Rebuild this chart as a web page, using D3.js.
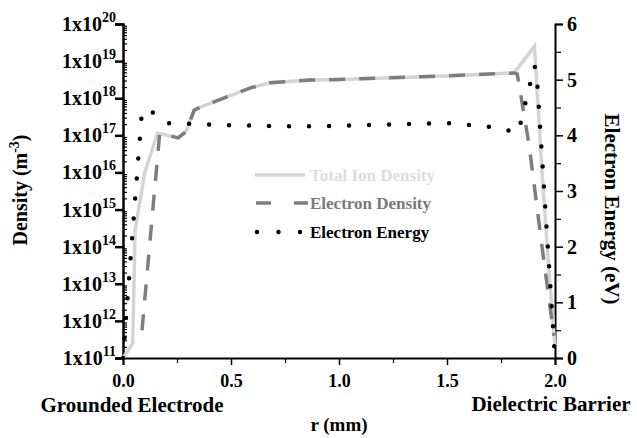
<!DOCTYPE html>
<html>
<head>
<meta charset="utf-8">
<script src="https://cdn.jsdelivr.net/npm/d3@7"></script>
<style>
body { margin: 0; background: #fff; }
text { font-family: "Liberation Serif", "Times New Roman", serif; font-weight: bold; }
</style>
</head>
<body>
<script>
// ion density (light solid line)
var ionR = [0, 0.045, 0.056, 0.10, 0.16, 0.255, 0.29, 0.33, 0.36, 0.59, 0.68, 0.87, 1.0, 1.5, 1.81, 1.905, 1.94, 1.97, 2.0];
var ionN = [1e11, 2.5e11, 2.8e14, 9.5e15, 1.15e17, 8.5e16, 1.23e17, 4.8e17, 5.8e17, 1.9e18, 2.6e18, 3.1e18, 3.2e18, 4.0e18, 4.8e18, 2.5e19, 1e16, 3.2e13, 2e11];

// electron density (dashed grey)
var eleR = [0.088, 0.17, 0.255, 0.29, 0.33, 0.36, 0.59, 0.68, 0.87, 1.0, 1.5, 1.81, 1.825, 1.84, 1.88, 1.94, 1.995];
var eleN = [5.6e11, 1.15e17, 8.5e16, 1.23e17, 4.8e17, 5.8e17, 1.9e18, 2.6e18, 3.1e18, 3.2e18, 4.0e18, 4.8e18, 4.5e18, 1.4e18, 5.5e16, 9.8e13, 4e11];

// electron energy (dotted, right axis)
var enR = [0, 0.045, 0.088, 0.125, 0.20, 0.5, 0.8, 1.0, 1.3, 1.5, 1.7, 1.83, 1.905, 1.915, 2.0];
var enE = [0, 2.3, 4.45, 4.45, 4.22, 4.18, 4.16, 4.17, 4.2, 4.22, 4.15, 4.05, 5.25, 5.1, 0];

var xTicks = [0, 0.5, 1.0, 1.5, 2.0];
var xMinor = [0.25, 0.75, 1.25, 1.75];
var decades = [11, 12, 13, 14, 15, 16, 17, 18, 19, 20];
var eTicks = [0, 1, 2, 3, 4, 5, 6];
var eMinor = [0.5, 1.5, 2.5, 3.5, 4.5, 5.5];
var legendNames = ["Total Ion Density", "Electron Density", "Electron Energy"];

var W = 637, H = 438;
var svg = d3.select("body").append("svg")
    .attr("width", W)
    .attr("height", H);

var x = d3.scaleLinear().domain([0, 2]).range([123, 555]);
var y = d3.scaleLog().domain([1e11, 1e20]).range([358, 24]);
var yE = d3.scaleLinear().domain([0, 6]).range([358, 24]);

// x axis
svg.append("g")
    .attr("transform", "translate(0,358)")
    .call(d3.axisBottom(x).tickValues(xTicks).tickSize(7).tickFormat(d3.format(".1f")))
    .call(function(g) {
      g.select(".domain").attr("stroke-width", 2);
      g.selectAll(".tick line").attr("stroke-width", 1.5);
      g.selectAll("text").attr("font-size", 18).attr("dy", 0).attr("y", 29).attr("fill", "#000");
    });
svg.append("g")
    .attr("transform", "translate(0,358)")
    .call(d3.axisBottom(x).tickValues(xMinor).tickSize(5).tickFormat(""))
    .call(function(g) { g.select(".domain").remove(); g.selectAll(".tick line").attr("stroke-width", 1.2); });

// left log axis
var minors = [];
decades.slice(0, -1).forEach(function(p) {
  for (var k = 2; k <= 9; k++) minors.push(k * Math.pow(10, p));
});
svg.append("g")
    .attr("transform", "translate(123,0)")
    .call(d3.axisLeft(y).tickValues(decades.map(function(p){ return Math.pow(10, p); })).tickSize(8).tickFormat(""))
    .call(function(g) {
      g.select(".domain").attr("stroke-width", 2.5);
      g.selectAll(".tick line").attr("stroke-width", 2.5);
    });
svg.append("g")
    .attr("transform", "translate(123,0)")
    .call(d3.axisRight(y).tickValues(minors).tickSize(4).tickFormat(""))
    .call(function(g) { g.select(".domain").remove(); g.selectAll(".tick line").attr("stroke-width", 1.2); });

var yl = svg.append("g").selectAll("text")
    .data(decades)
    .enter().append("text")
    .attr("x", 116)
    .attr("y", function(d) { return y(Math.pow(10, d)) + 7; })
    .attr("text-anchor", "end")
    .attr("font-size", 20);
yl.append("tspan").text("1x10");
yl.append("tspan").attr("dy", -9).attr("font-size", 14).text(function(d) { return d; });

// right energy axis
svg.append("g")
    .attr("transform", "translate(555,0)")
    .call(d3.axisRight(yE).tickValues(eTicks).tickSize(8).tickFormat(""))
    .call(function(g) {
      g.select(".domain").attr("stroke-width", 2);
      g.selectAll(".tick line").attr("stroke-width", 1.5);
    });
svg.append("g")
    .attr("transform", "translate(555,0)")
    .call(d3.axisRight(yE).tickValues(eMinor).tickSize(6).tickFormat(""))
    .call(function(g) { g.select(".domain").remove(); g.selectAll(".tick line").attr("stroke-width", 1.2); });
svg.append("g").selectAll("text")
    .data(eTicks)
    .enter().append("text")
    .attr("x", 567)
    .attr("y", function(d) { return yE(d) + 7; })
    .attr("font-size", 20)
    .text(function(d) { return d; });

// lines
var lineN = d3.line()
    .x(function(d) { return x(d[0]); })
    .y(function(d) { return y(d[1]); });
var lineE = d3.line()
    .x(function(d) { return x(d[0]); })
    .y(function(d) { return yE(d[1]); });

svg.append("path")
    .datum(d3.zip(ionR, ionN))
    .attr("d", lineN)
    .attr("fill", "none")
    .attr("stroke", "#d4d4d4")
    .attr("stroke-width", 3.5);

svg.append("path")
    .datum(d3.zip(eleR, eleN))
    .attr("d", lineN)
    .attr("fill", "none")
    .attr("stroke", "#7e7e7e")
    .attr("stroke-width", 3.5)
    .attr("stroke-dasharray", "16,14");

svg.append("path")
    .datum(d3.zip(enR, enE))
    .attr("d", lineE)
    .attr("fill", "none")
    .attr("stroke", "#000")
    .attr("stroke-width", 4.5)
    .attr("stroke-linecap", "round")
    .attr("stroke-dasharray", "0,20");

// legend
var leg = svg.append("g");
var legY = [175, 203, 232];
leg.append("line").attr("x1", 255).attr("x2", 305).attr("y1", legY[0]).attr("y2", legY[0])
    .attr("stroke", "#d4d4d4").attr("stroke-width", 3.5);
leg.append("line").attr("x1", 256).attr("x2", 308).attr("y1", legY[1]).attr("y2", legY[1])
    .attr("stroke", "#7e7e7e").attr("stroke-width", 3.5).attr("stroke-dasharray", "15,23");
leg.append("line").attr("x1", 257).attr("x2", 305).attr("y1", legY[2]).attr("y2", legY[2])
    .attr("stroke", "#000").attr("stroke-width", 4.5).attr("stroke-linecap", "round").attr("stroke-dasharray", "0,21.5");
leg.selectAll("text")
    .data(legendNames)
    .enter().append("text")
    .attr("x", 310)
    .attr("y", function(d, i) { return legY[i] + 6; })
    .attr("font-size", 17)
    .attr("fill", function(d, i) { return ["#dddddd", "#7a7a7a", "#000"][i]; })
    .text(function(d) { return d; });

// axis titles
svg.append("text")
    .attr("transform", "translate(27,190) rotate(-90)")
    .attr("text-anchor", "middle")
    .attr("font-size", 20)
    .html('Density (m<tspan dy="-8" font-size="14">-3</tspan><tspan dy="8">)</tspan>');

svg.append("text")
    .attr("transform", "translate(605,209) rotate(90)")
    .attr("text-anchor", "middle")
    .attr("font-size", 21)
    .text("Electron Energy (eV)");

svg.append("text")
    .attr("x", 132).attr("y", 412)
    .attr("text-anchor", "middle")
    .attr("font-size", 21)
    .text("Grounded Electrode");

svg.append("text")
    .attr("x", 551).attr("y", 411)
    .attr("text-anchor", "middle")
    .attr("font-size", 21)
    .text("Dielectric Barrier");

svg.append("text")
    .attr("x", 339).attr("y", 431)
    .attr("text-anchor", "middle")
    .attr("font-size", 19)
    .text("r (mm)");
</script>
</body>
</html>
